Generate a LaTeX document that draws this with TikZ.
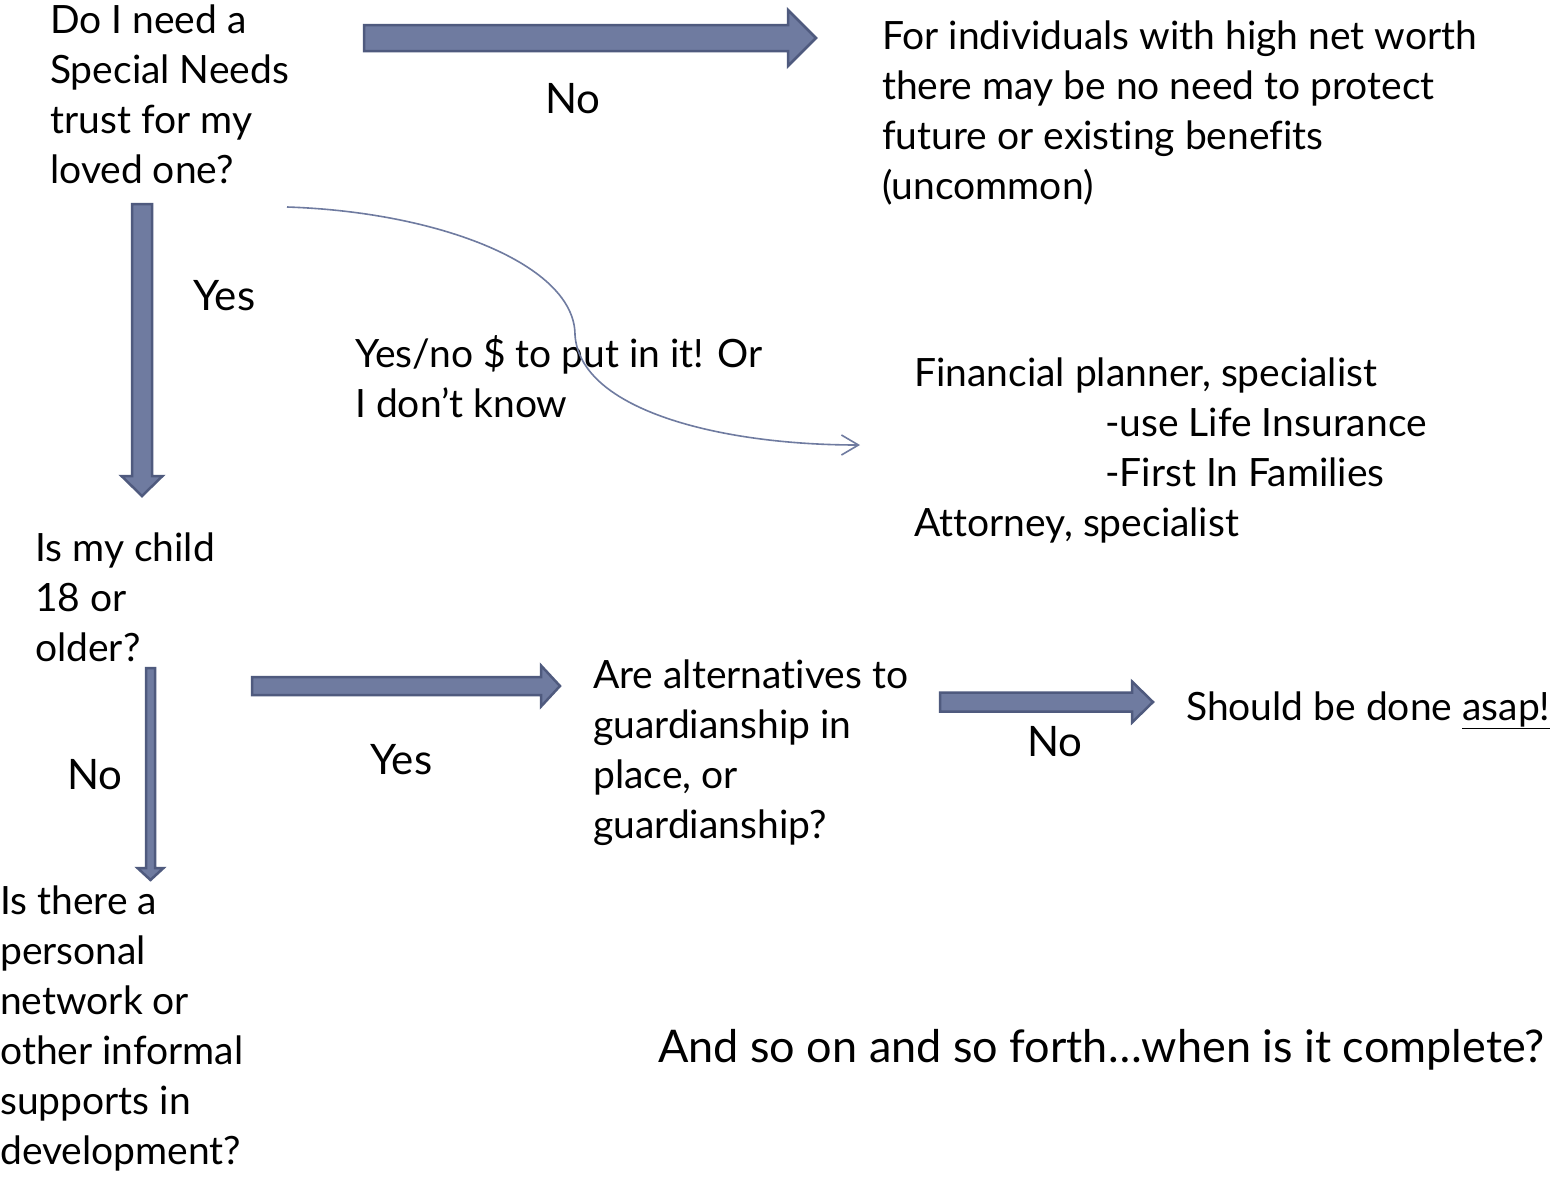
\documentclass[tikz,border=0pt]{standalone}
\usepackage{fontspec}
\setmainfont{Lato}[Ligatures=NoCommon]
\usetikzlibrary{arrows.meta}
\definecolor{afill}{HTML}{6F7BA0}
\definecolor{aline}{HTML}{4F5A7E}
\newcommand\blockR[6]{\draw[barrow] (#1,#4-#5) -- (#2,#4-#5) -- (#2,#4-#6) -- (#3,#4) -- (#2,#4+#6) -- (#2,#4+#5) -- (#1,#4+#5) -- cycle;}
\newcommand\blockD[6]{\draw[barrow] (#1-#5,#2) -- (#1-#5,#3) -- (#1-#6,#3) -- (#1,#4) -- (#1+#6,#3) -- (#1+#5,#3) -- (#1+#5,#2) -- cycle;}
\begin{document}
\begin{tikzpicture}[x=1pt,y=-1pt,
  txt/.style={anchor=base west, inner sep=0pt, align=left, font=\fontsize{39}{50}\selectfont},
  lbl/.style={anchor=base west, inner sep=0pt, font=\fontsize{42}{50}\selectfont},
  barrow/.style={fill=afill, draw=aline, line width=2.5pt, line join=miter},
  curveline/.style={draw=afill, line width=1.6pt, -{Straight Barb[length=17pt,width=20pt,line width=1.6pt]}}]
\useasboundingbox (0,0) rectangle (1558,1176);
\fill[white] (0,0) rectangle (1558,1176);

% text blocks (anchor = baseline of last line)
\node[txt] (q1) at (50,183) {Do I need a\\Special Needs\\trust for my\\loved one?};
\node[txt] (nohigh) at (882,199) {For individuals with high net worth\\there may be no need to protect\\future or existing benefits\\(uncommon)};
\node[lbl] (lblnoA) at (545,113) {No};
\node[lbl] (lblyesA) at (193,310) {Yes};
\node[txt] (lblmid) at (355,417) {Yes/no \$ to put in it! Or\\I don’t know};
\node[txt] (fin) at (914,536) {Financial planner, specialist\\\hspace*{191pt}-use Life Insurance\\\hspace*{191pt}-First In Families\\Attorney, specialist};
\node[txt] (q2) at (35,661) {Is my child\\18 or\\older?};
\node[lbl] (lblnoB) at (67,789) {No};
\node[txt] (q3) at (0,1164) {Is there a\\personal\\network or\\other informal\\supports in\\development?};
\node[lbl] (lblyesB) at (370,774) {Yes};
\node[txt] (q4) at (593,838) {Are alternatives to\\guardianship in\\place, or\\guardianship?};
\node[lbl] (lblnoC) at (1027,756) {No};
\node[txt] (asap) at (1186,720) {Should be done \underline{asap!}};
\node[txt, font=\fontsize{45}{54}\selectfont] (endq) at (658,1062) {And so on and so forth…when is it complete?};

% block arrows
\blockR{364}{788}{816}{38}{13}{28}
\blockD{142}{204}{476}{496}{10}{20.5}
\blockD{150.5}{668}{868}{880}{4.5}{13}
\blockR{252}{541}{560}{686}{9}{20.5}
\blockR{940}{1132}{1153}{702}{9.5}{20.5}

% curved connector
\coordinate (cs) at (287,207);
\coordinate (cm) at (575,335);
\coordinate (ce) at (860,445);
\draw[curveline] (cs) .. controls (440,212) and (575,265) .. (cm) .. controls (580,410) and (720,445) .. (ce);
\end{tikzpicture}
\end{document}
